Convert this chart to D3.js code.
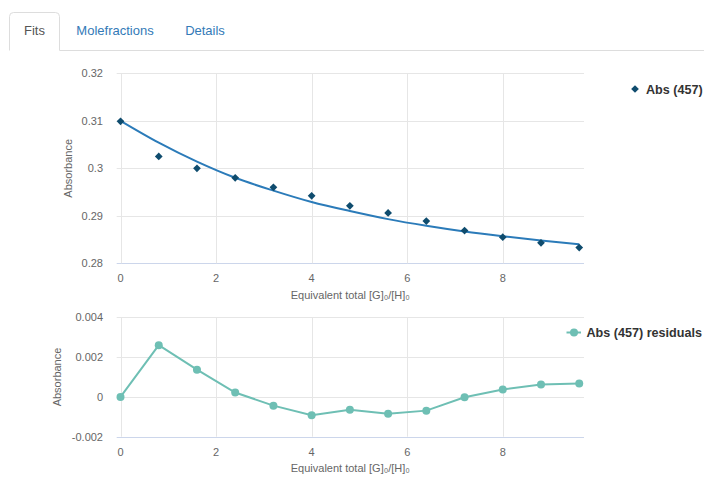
<!DOCTYPE html>
<html><head><meta charset="utf-8">
<script src="https://cdn.jsdelivr.net/npm/d3@7"></script>
<style>
html,body{margin:0;padding:0;background:#fff;overflow:hidden;}
svg{display:block;font-family:"Liberation Sans",Arial,Helvetica,sans-serif;}
</style></head>
<body>
<svg id="c" width="704" height="477"></svg>
<script>
const xValues   = [0, 0.8, 1.6, 2.4, 3.2, 4.0, 4.8, 5.6, 6.4, 7.2, 8.0, 8.8, 9.6];
const absData   = [0.3099, 0.3025, 0.3000, 0.2980, 0.2960, 0.2942, 0.2921, 0.2906, 0.2889, 0.2869, 0.2855, 0.2843, 0.2833];
const absFit    = [0.3100, 0.3054, 0.3014, 0.2980, 0.2953, 0.2929, 0.2910, 0.2893, 0.2879, 0.2867, 0.2857, 0.2848, 0.2840];
const residuals = [0.0000, 0.00260, 0.00137, 0.00022, -0.00044, -0.00092, -0.00065, -0.00085, -0.00069, -0.00002, 0.00037, 0.00062, 0.00067];
const xTicks    = [0, 2, 4, 6, 8];
const topYTicks = [0.28, 0.29, 0.30, 0.31, 0.32];
const botYTicks = [-0.002, 0, 0.002, 0.004];
const tabs      = ["Fits", "Molefractions", "Details"];
const xTitle    = "Equivalent total [G]₀/[H]₀";
const yTitle    = "Absorbance";
const legendTop = "Abs (457)";
const legendBot = "Abs (457) residuals";

const svg = d3.select("#c");

// Tabs
svg.append("line").attr("x1", 59.5).attr("x2", 704).attr("y1", 50.5).attr("y2", 50.5).attr("stroke", "#ddd");
svg.append("path").attr("d", "M9.5,50.5 V16.5 Q9.5,12.5 13.5,12.5 H55.5 Q59.5,12.5 59.5,16.5 V50.5")
  .attr("fill", "#fff").attr("stroke", "#ddd");
const tabX = [34.5, 115, 205];
tabs.forEach((t, i) => {
  svg.append("text").attr("x", tabX[i]).attr("y", 35).attr("text-anchor", "middle")
    .attr("font-size", 13).attr("fill", i === 0 ? "#555" : "#337ab7").text(t);
});

const x = d3.scaleLinear().domain([-0.08, 9.7]).range([116.7, 584]);

function panel(yScale, yTicks, fmt, titleX, titleY, labelBaseline, xTitleBaseline) {
  const g = svg.append("g");
  const [yb, yt] = yScale.range();
  g.selectAll(".hg").data(yTicks).join("line")
    .attr("x1", x.range()[0]).attr("x2", x.range()[1])
    .attr("y1", d => Math.round(yScale(d)) + 0.5).attr("y2", d => Math.round(yScale(d)) + 0.5)
    .attr("stroke", d => d === yTicks[0] ? "#ccd6eb" : "#e6e6e6");
  g.selectAll(".vg").data(xTicks).join("line")
    .attr("x1", d => Math.round(x(d)) + 0.5).attr("x2", d => Math.round(x(d)) + 0.5)
    .attr("y1", yt).attr("y2", yb)
    .attr("stroke", "#e6e6e6");
  g.selectAll(".yl").data(yTicks).join("text")
    .attr("x", 103).attr("y", d => yScale(d) + 4).attr("text-anchor", "end")
    .attr("font-size", 11).attr("fill", "#666").text(fmt);
  g.selectAll(".xl").data(xTicks).join("text")
    .attr("x", d => x(d)).attr("y", labelBaseline).attr("text-anchor", "middle")
    .attr("font-size", 11).attr("fill", "#666").text(d => d);
  g.append("text").attr("x", (x.range()[0] + x.range()[1]) / 2).attr("y", xTitleBaseline)
    .attr("text-anchor", "middle").attr("font-size", 11).attr("fill", "#666").text(xTitle);
  g.append("text").attr("transform", `translate(${titleX},${titleY}) rotate(-90)`)
    .attr("text-anchor", "middle").attr("dy", "0.35em").attr("font-size", 11).attr("fill", "#666").text(yTitle);
  return g;
}

// Top panel
const yTop = d3.scaleLinear().domain([0.28, 0.32]).range([263.3, 73.3]);
const gt = panel(yTop, topYTicks, d => d3.format("")(+d.toFixed(2)), 68.5, 168.3, 282, 299);
gt.append("path").datum(xValues.map((v, i) => [v, absFit[i]]))
  .attr("d", d3.line().x(d => x(d[0])).y(d => yTop(d[1])).curve(d3.curveMonotoneX))
  .attr("fill", "none").attr("stroke", "#2b7bb9").attr("stroke-width", 2);
const diamond = d3.symbol().type(d3.symbolSquare).size(30);
gt.selectAll(".pt").data(xValues.map((v, i) => [v, absData[i]])).join("path")
  .attr("d", diamond).attr("transform", d => `translate(${x(d[0])},${yTop(d[1])}) rotate(45)`)
  .attr("fill", "#0f4c6e");
svg.append("path").attr("d", diamond).attr("transform", "translate(635,89) rotate(45)").attr("fill", "#0f4c6e");
svg.append("text").attr("x", 646).attr("y", 93.5).attr("font-size", 12.6).attr("font-weight", "bold")
  .attr("fill", "#333").text(legendTop);

// Bottom panel
const yBot = d3.scaleLinear().domain([-0.002, 0.004]).range([436.7, 317.3]);
const gb = panel(yBot, botYTicks, d => d === 0 ? "0" : d3.format(".3f")(d).replace("−", "-"), 57.5, 377, 456, 472);
gb.append("path").datum(xValues.map((v, i) => [v, residuals[i]]))
  .attr("d", d3.line().x(d => x(d[0])).y(d => yBot(d[1])))
  .attr("fill", "none").attr("stroke", "#6ebfb4").attr("stroke-width", 2);
gb.selectAll(".rp").data(xValues.map((v, i) => [v, residuals[i]])).join("circle")
  .attr("cx", d => x(d[0])).attr("cy", d => yBot(d[1])).attr("r", 4).attr("fill", "#6ebfb4");
svg.append("line").attr("x1", 566.5).attr("x2", 581).attr("y1", 332.5).attr("y2", 332.5)
  .attr("stroke", "#6ebfb4").attr("stroke-width", 2);
svg.append("circle").attr("cx", 574).attr("cy", 332.5).attr("r", 4).attr("fill", "#6ebfb4");
svg.append("text").attr("x", 586.5).attr("y", 337).attr("font-size", 12.6).attr("font-weight", "bold")
  .attr("fill", "#333").text(legendBot);
</script>
</body></html>
